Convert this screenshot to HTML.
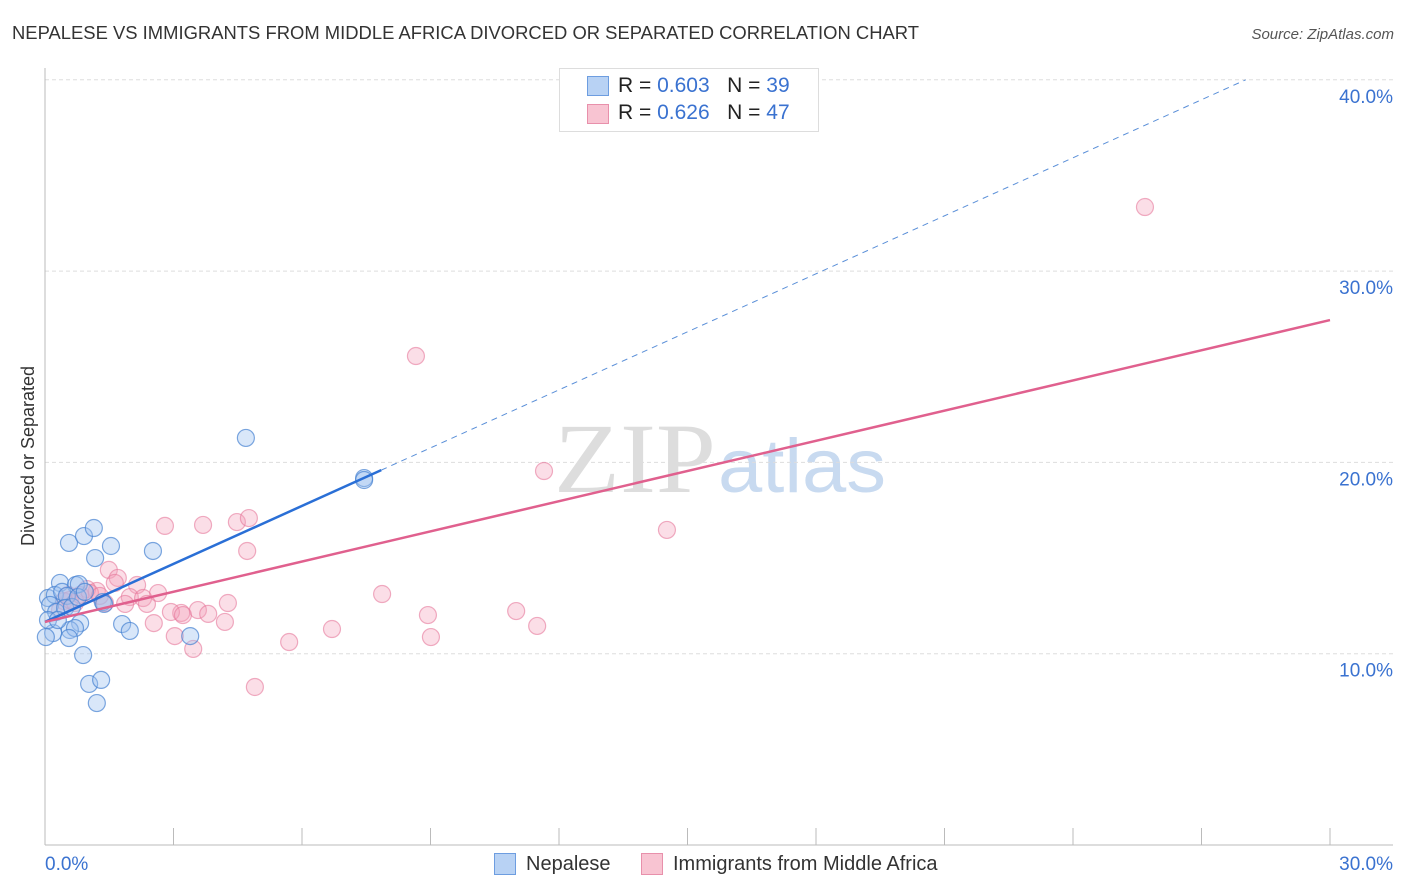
<!DOCTYPE html>
<html><head><meta charset="utf-8"><style>
body{margin:0;background:#fff;font-family:"Liberation Sans",sans-serif;}
#wrap{position:relative;width:1406px;height:892px;overflow:hidden}
</style></head><body>
<div id="wrap">
<svg id="svg" width="1406" height="892">
<text x="12" y="39" font-size="18" fill="#333" textLength="907" lengthAdjust="spacingAndGlyphs">NEPALESE VS IMMIGRANTS FROM MIDDLE AFRICA DIVORCED OR SEPARATED CORRELATION CHART</text>
<text x="1394" y="39" font-size="15" fill="#555" font-style="italic" text-anchor="end">Source: ZipAtlas.com</text>
<text x="0" y="0" transform="translate(34,456) rotate(-90)" font-size="18" fill="#333" text-anchor="middle">Divorced or Separated</text>
<text x="716" y="492" font-size="100" fill="#ddd" text-anchor="end" textLength="162" lengthAdjust="spacingAndGlyphs" font-family="Liberation Serif,serif">ZIP</text>
<text x="718" y="492" font-size="76" fill="#c8daf0" textLength="168" lengthAdjust="spacingAndGlyphs">atlas</text>
<g id="grid"></g><g id="axes"></g><g id="marks"></g>
</svg>
<div style="position:absolute;left:559px;top:68px;width:258px;height:62px;border:1px solid #ddd;background:#fff;font-size:21px">
<div style="position:absolute;left:27px;top:7px;width:20px;height:18px;background:#b8d2f4;border:1px solid #6d9de0"></div>
<div style="position:absolute;left:58px;top:5px;color:#222">R = <span style="color:#3a72d0">0.603</span>&nbsp;&nbsp;&nbsp;N = <span style="color:#3a72d0">39</span></div>
<div style="position:absolute;left:27px;top:35px;width:20px;height:18px;background:#f8c4d2;border:1px solid #e890ab"></div>
<div style="position:absolute;left:58px;top:32px;color:#222">R = <span style="color:#3a72d0">0.626</span>&nbsp;&nbsp;&nbsp;N = <span style="color:#3a72d0">47</span></div>
</div>
<div style="position:absolute;left:494px;top:853px;width:20px;height:20px;background:#b8d2f4;border:1px solid #6d9de0"></div>
<div style="position:absolute;left:526px;top:853px;font-size:20px;color:#333">Nepalese</div>
<div style="position:absolute;left:641px;top:853px;width:20px;height:20px;background:#f8c4d2;border:1px solid #e890ab"></div>
<div style="position:absolute;left:673px;top:853px;font-size:20px;color:#333">Immigrants from Middle Africa</div>
</div>
<script>
const yTicks=[10,20,30,40];
const yTickLabels=["10.0%","20.0%","30.0%","40.0%"];
const xTickLabels=["0.0%","30.0%"];
const blueX=[4.69,7.45,7.45,2.52,0.56,0.91,1.14,1.54,1.17,0.35,0.72,0.79,0.07,0.23,0.40,0.51,0.12,0.26,0.47,0.63,0.77,1.35,0.82,1.80,1.98,0.58,0.70,0.56,0.19,0.02,3.39,0.89,1.03,1.31,1.21,0.07,0.30,0.93,1.38];
const blueY=[21.28,19.18,19.08,15.37,15.79,16.15,16.57,15.63,15.00,13.70,13.59,13.64,12.91,13.07,13.23,13.02,12.55,12.18,12.39,12.44,12.96,12.70,11.60,11.55,11.19,11.24,11.34,10.82,11.08,10.87,10.92,9.93,8.42,8.63,7.42,11.76,11.76,13.23,12.60];
const pinkX=[25.68,8.66,11.65,14.52,2.80,3.69,4.48,4.76,4.72,1.49,1.70,2.15,2.64,1.21,0.98,1.98,2.29,2.38,1.87,1.40,0.54,0.44,0.70,0.35,7.87,8.94,11.00,4.27,3.57,3.18,2.94,3.22,3.81,2.54,4.20,11.49,9.01,6.70,5.70,3.03,3.46,4.90,0.58,0.82,1.05,1.28,1.63];
const pinkY=[33.35,25.56,19.55,16.47,16.68,16.73,16.88,17.09,15.37,14.38,13.96,13.59,13.17,13.28,13.38,12.96,12.91,12.60,12.60,12.65,13.07,12.75,12.65,12.28,13.12,12.02,12.23,12.65,12.28,12.13,12.18,12.02,12.08,11.60,11.66,11.45,10.87,11.29,10.61,10.92,10.25,8.26,12.81,13.07,13.17,13.02,13.70];
const blueLine=[11.66,1.011];  // intercept, slope
const pinkLine=[11.66,0.526];
const X=v=>45+v/30*1285, Y=v=>845-v*19.13;
const NS="http://www.w3.org/2000/svg";
function mk(p,t,a){const e=document.createElementNS(NS,t);for(const k in a)e.setAttribute(k,a[k]);p.appendChild(e);return e;}
const grid=document.getElementById('grid'),axes=document.getElementById('axes'),marks=document.getElementById('marks');
yTicks.forEach((t,i)=>{
 const l=mk(grid,'line',{x1:45,x2:1393,y1:Y(t),y2:Y(t),stroke:'#ddd','stroke-dasharray':'4,3'});
 
 
 const tx=mk(axes,'text',{x:1393,y:Y(t)+23,'font-size':19,fill:'#3a72d0','text-anchor':'end'});tx.textContent=yTickLabels[i];
 
 
});
let a=mk(axes,'line',{x1:45,x2:45,y1:68,y2:845,stroke:'#bbb'});


a=mk(axes,'line',{x1:45,x2:1393,y1:845,y2:845,stroke:'#bbb'});


for(let i=0;i<=10;i++){const t=mk(axes,'line',{x1:X(i*3),x2:X(i*3),y1:828,y2:845,stroke:'#bbb'});
 
 }
let tl=mk(axes,'text',{x:45,y:870,'font-size':19,fill:'#3a72d0'});tl.textContent=xTickLabels[0];


tl=mk(axes,'text',{x:1393,y:870,'font-size':19,fill:'#3a72d0','text-anchor':'end'});tl.textContent=xTickLabels[1];


pinkX.forEach((x,i)=>{const c=mk(marks,'circle',{cx:X(x),cy:Y(pinkY[i]),r:8.5,fill:'rgba(244,160,186,0.35)',stroke:'rgba(230,120,155,0.6)','stroke-width':1.2});
 
 });
blueX.forEach((x,i)=>{const c=mk(marks,'circle',{cx:X(x),cy:Y(blueY[i]),r:8.5,fill:'rgba(160,195,240,0.4)',stroke:'rgba(70,130,210,0.7)','stroke-width':1.2});
 
 });
const bx1=7.85,bxEnd=(40-blueLine[0])/blueLine[1];
let ln=mk(marks,'line',{x1:X(bx1),y1:Y(blueLine[0]+blueLine[1]*bx1),x2:X(bxEnd),y2:Y(40),stroke:'#5a8fd8','stroke-width':1,'stroke-dasharray':'6,5'});


ln=mk(marks,'line',{x1:X(0),y1:Y(blueLine[0]),x2:X(bx1),y2:Y(blueLine[0]+blueLine[1]*bx1),stroke:'#2a6fd6','stroke-width':2.5});


ln=mk(marks,'line',{x1:X(0),y1:Y(pinkLine[0]),x2:X(30),y2:Y(pinkLine[0]+pinkLine[1]*30),stroke:'#e0608e','stroke-width':2.5});


</script>
</body></html>
